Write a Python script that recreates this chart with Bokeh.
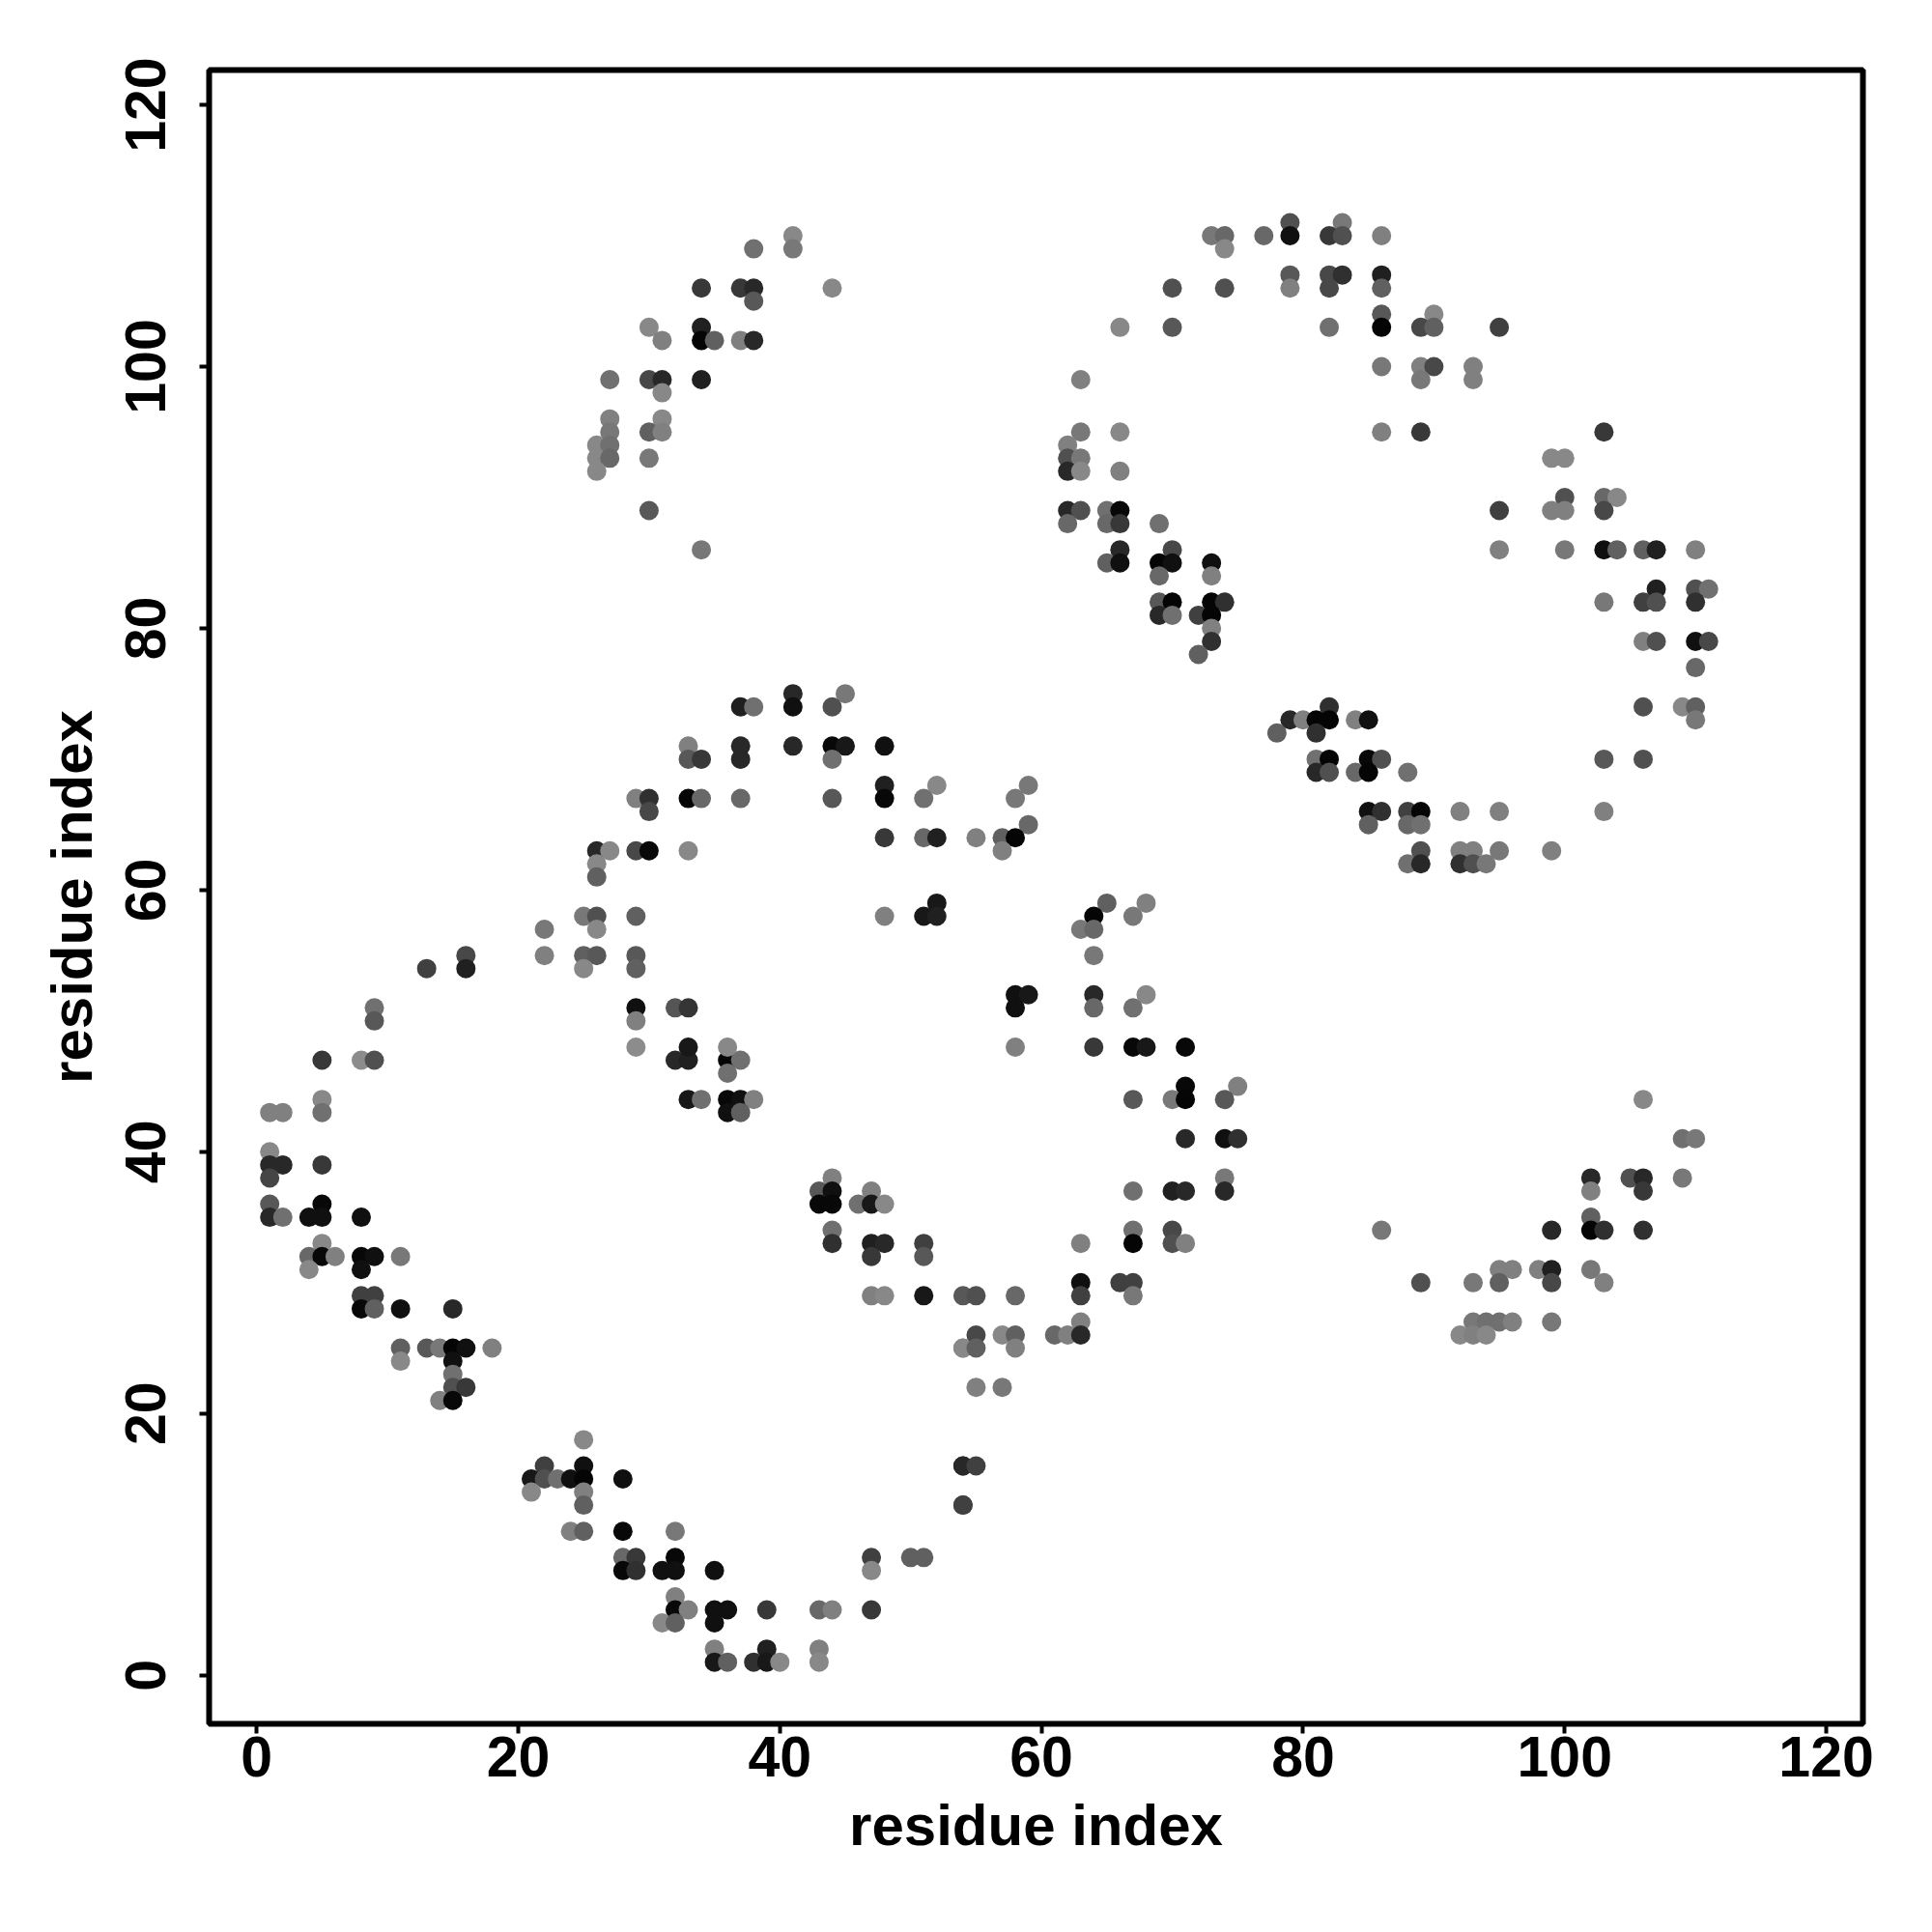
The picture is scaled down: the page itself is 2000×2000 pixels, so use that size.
from bokeh.plotting import figure
from bokeh.embed import file_html
from bokeh.resources import INLINE
from bokeh.models import FixedTicker, Range1d

x_vals = [
 5,8,9,32,33,36,37, 29,33,36, 9,29,32,33, 9,29, 36,
 5,33,34,36,37,38, 1,2,5,36,37, 1, 1,2,5, 1,44, 43,44,47, 1,5,43,44,46,47,48,
 1,2,4,5,8, 44, 5,44,47,48,51, 4,5,6,8,9,11,47,51, 4,8, 8,9,47,48,51,54,
 8,9,11,15, 11,13,14,15,16,18,54, 11,15, 15, 15,16, 14,15, 25, 22,25,54,
 21,22,23,24,25,28, 21,25, 25,54, 24,25,28,32, 28,29,32,47,50,51,
 28,29,31,32,35,47, 32, 32,33,35,36,39,43,44,47, 31,32,35, 35,39,43, 35,36,38,39,40,43,
 41,38,41, 34,37,38,44, 38, 30,34, 31,34,35,37,38, 27,30,31,34, 31, 27,31, 27,30,31,
 26,27, 26,27,30, 26, 30, 34, 41,45, 37,38,41,44, 33,37,41,44,45,48, 33,34,37,44,
 48,52, 29,30,33,34,37,44,48,51, 30, 48,51,52, 26,27,29,30,33, 26, 26, 52,
 25,26,29,48,51,52, 22,26, 22,25,26,29,16, 13,16,25,29,
 79,83, 73,74,77,79,82,83,86, 74, 79,82,83,86, 70,74,79,82,86, 86,90, 66,70,82,86,89,90,95,
 86,89,90,93, 63,89,93, 63,66,86,89,103, 62, 62,63,99,100, 62,63,66, 100,103,104,
 62,63,65,66,95,99,100,103, 62,65,66,69, 66,70,95,100,103,104,106,107,110,
 65,66,69,70,73, 69,73, 107,110,111, 69,70,73,74,103,106,107,110, 69,70,72,73, 73,
 73,106,107,110,111, 72, 110, 82,106,109,110, 79,80,81,82,84,85,110, 78,81,
 81,82,85,86,103,106, 81,82,84,85,88, 85,86,88,89,92,95,103, 85,88,89,
 89,92,93,95,99, 88,89,92,93,94,
 59,58,59,55,57,58,57, 65,64,63,64,67,68,64,
 58,59,64,68, 58,64,67, 58,64,67,68,71, 71,75, 67,70,71,74,106, 71,74,75,109,110,
 74,102,105,106,109, 67,70,71,74,102,106, 102, 67,70,86,99,102,103,106, 63,67,70,71,
 95,96,98,99,102, 63,66,67,89,93,95,99,103, 55,58,63,67, 63,93,94,95,96,99,
 55,57,58,61,62,63,92,93,94, 54,55,58, 55,57, 54,55, 54,
]
y_vals = [
 47,47,47,47,47,47,47, 48,48,48, 51,51,51,51, 50,50, 46,
 44,44,44,44,44,44, 43,43,43,43,43, 40, 39,39,39, 38,38, 37,37,37, 36,36,36,36,36,36,36,
 35,35,35,35,35, 34, 33,33,33,33,33, 32,32,32,32,32,32,32,32, 31,31, 29,29,29,29,29,29,
 28,28,28,28, 25,25,25,25,25,25,25, 24,24, 23, 22,22, 21,21, 18, 16,16,16,
 15,15,15,15,15,15, 14,14, 13,13, 11,11,11,11, 9,9,9,9,9,9,
 8,8,8,8,8,8, 6, 5,5,5,5,5,5,5,5, 4,4,4, 2,2,2, 1,1,1,1,1,1,
 110,109,109, 106,106,106,106, 105, 103,103, 102,102,102,102,102, 99,99,99,99, 98, 96,96, 95,95,95,
 94,94, 93,93,93, 92, 89, 86, 75,75, 74,74,74,74, 71,71,71,71,71,71, 70,70,70,70,
 68,68, 67,67,67,67,67,67,67,67, 66, 64,64,64, 63,63,63,63,63, 62, 61, 59,
 58,58,58,58,58,58, 57,57, 55,55,55,55,55, 54,54,54,54,
 111,111, 110,110,110,110,110,110,110, 109, 107,107,107,107, 106,106,106,106,106, 104,104, 103,103,103,103,103,103,103,
 100,100,100,100, 99,99,99, 95,95,95,95,95, 94, 93,93,93,93, 92,92,92, 90,90,90,
 89,89,89,89,89,89,89,89, 88,88,88,88, 86,86,86,86,86,86,86,86,86,
 85,85,85,85,85, 84,84, 83,83,83, 82,82,82,82,82,82,82,82, 81,81,81,81, 80,
 79,79,79,79,79, 78, 77, 74,74,74,74, 73,73,73,73,73,73,73, 72,72,
 70,70,70,70,70,70, 69,69,69,69,69, 66,66,66,66,66,66,66, 65,65,65,
 63,63,63,63,63, 62,62,62,62,62,
 68,67,65,64,64,64,63, 59,58,57,57,58,59,55,
 52,52,52,52, 51,51,51, 48,48,48,48,48, 45,45, 44,44,44,44,44, 41,41,41,41,41,
 38,38,38,38,38, 37,37,37,37,37,37, 35, 34,34,34,34,34,34,34, 33,33,33,33,
 31,31,31,31,31, 30,30,30,30,30,30,30,30, 29,29,29,29, 27,27,27,27,27,27,
 26,26,26,26,26,26,26,26,26, 25,25,25, 22,22, 16,16, 13,
]
gray_vals = [
 0x38,0x8c,0x50,0x28,0x20,0x05,0x70, 0x8c,0x18,0x88, 0x70,0x10,0x55,0x35, 0x58,0x80, 0x70,
 0x88,0x18,0x70,0x08,0x10,0x80, 0x80,0x80,0x70,0x10,0x60, 0x88, 0x28,0x28,0x38, 0x45,0x80, 0x58,0x10,0x80, 0x58,0x08,0x08,0x08,0x70,0x18,0x88,
 0x28,0x70,0x10,0x10,0x10, 0x70, 0x88,0x30,0x20,0x28,0x40, 0x68,0x08,0x80,0x08,0x10,0x78,0x38,0x58, 0x88,0x10, 0x40,0x40,0x80,0x88,0x18,0x58,
 0x08,0x60,0x10,0x28, 0x60,0x58,0x78,0x05,0x10,0x80,0x88, 0x88,0x10, 0x70, 0x50,0x38, 0x80,0x08, 0x88, 0x40,0x10,0x28,
 0x18,0x50,0x70,0x10,0x05,0x10, 0x88,0x80, 0x60,0x40, 0x80,0x60,0x08,0x78, 0x68,0x38,0x08,0x40,0x60,0x60,
 0x08,0x30,0x10,0x10,0x10,0x88, 0x80, 0x08,0x80,0x10,0x10,0x38,0x68,0x80,0x38, 0x88,0x60,0x10, 0x80,0x20,0x80, 0x18,0x60,0x30,0x18,0x88,0x88,
 0x88,0x70,0x78, 0x38,0x38,0x28,0x88, 0x58, 0x88,0x20, 0x80,0x05,0x60,0x80,0x28, 0x70,0x48,0x28,0x20, 0x88, 0x80,0x88, 0x78,0x60,0x80,
 0x88,0x70, 0x88,0x68,0x78, 0x88, 0x58, 0x78, 0x28,0x78, 0x20,0x70,0x10,0x50, 0x80,0x28,0x28,0x08,0x18,0x10, 0x58,0x38,0x28,0x70,
 0x20,0x88, 0x80,0x30,0x05,0x68,0x68,0x58,0x08,0x70, 0x48, 0x38,0x68,0x20, 0x28,0x88,0x48,0x08,0x88, 0x88, 0x60, 0x18,
 0x78,0x50,0x60,0x80,0x18,0x20, 0x78,0x88, 0x80,0x60,0x58,0x58,0x48, 0x40,0x20,0x88,0x60,
 0x50,0x78, 0x78,0x68,0x68,0x10,0x38,0x50,0x80, 0x88, 0x58,0x48,0x30,0x20, 0x50,0x50,0x80,0x48,0x60, 0x58,0x88, 0x88,0x58,0x70,0x05,0x48,0x60,0x40,
 0x78,0x80,0x48,0x80, 0x80,0x78,0x80, 0x78,0x88,0x80,0x38,0x38, 0x80, 0x50,0x78,0x88,0x88, 0x28,0x88,0x80, 0x50,0x68,0x88,
 0x28,0x50,0x70,0x08,0x40,0x80,0x80,0x48, 0x68,0x68,0x38,0x70, 0x28,0x48,0x80,0x78,0x10,0x60,0x60,0x20,0x80,
 0x60,0x10,0x05,0x10,0x10, 0x68,0x80, 0x20,0x50,0x70, 0x58,0x05,0x05,0x30,0x78,0x40,0x50,0x30, 0x28,0x70,0x40,0x05, 0x80,
 0x30,0x80,0x50,0x10,0x48, 0x60, 0x68, 0x30,0x50,0x88,0x60, 0x28,0x80,0x05,0x05,0x80,0x10,0x78, 0x60,0x30,
 0x70,0x05,0x08,0x50,0x58,0x50, 0x28,0x50,0x68,0x05,0x70, 0x10,0x30,0x40,0x05,0x80,0x80,0x80, 0x60,0x68,0x70,
 0x50,0x80,0x80,0x78,0x80, 0x70,0x28,0x30,0x50,0x78,
 0x78,0x78,0x68,0x80,0x60,0x05,0x80, 0x60,0x05,0x78,0x68,0x78,0x80,0x78,
 0x10,0x18,0x28,0x88, 0x10,0x68,0x70, 0x80,0x38,0x08,0x18,0x08, 0x08,0x80, 0x58,0x78,0x05,0x58,0x88, 0x28,0x10,0x30,0x70,0x78,
 0x78,0x28,0x50,0x28,0x78, 0x70,0x20,0x28,0x28,0x80,0x38, 0x60, 0x70,0x48,0x78,0x28,0x05,0x30,0x30, 0x80,0x05,0x50,0x80,
 0x80,0x80,0x80,0x20,0x78, 0x10,0x40,0x40,0x50,0x78,0x60,0x48,0x80, 0x50,0x68,0x40,0x78, 0x80,0x78,0x70,0x70,0x80,0x78,
 0x48,0x88,0x60,0x68,0x80,0x28,0x88,0x80,0x88, 0x88,0x60,0x80, 0x80,0x78, 0x28,0x40, 0x40,
]
tick_vals = [0, 20, 40, 60, 80, 100, 120]
x_label = "residue index"
y_label = "residue index"

colors = ["#%02x%02x%02x" % (g, g, g) for g in gray_vals]

p = figure(width=1984, height=1984, output_backend="svg", toolbar_location=None,
           x_range=Range1d(-3.63, 122.8), y_range=Range1d(-3.71, 122.66),
           min_border_left=216, min_border_right=56, min_border_top=72, min_border_bottom=200)
p.frame_width = 1712
p.frame_height = 1712
p.grid.visible = False
p.scatter(x_vals, y_vals, size=20, color=colors, line_color=None)
p.outline_line_color = "black"
p.outline_line_width = 6
for ax, lab in ((p.xaxis[0], x_label), (p.yaxis[0], y_label)):
    ax.ticker = FixedTicker(ticks=tick_vals)
    ax.axis_label = lab
    ax.axis_label_text_font = "Liberation Sans"
    ax.axis_label_text_font_style = "bold"
    ax.axis_label_text_font_size = "60px"
    ax.axis_label_text_color = "black"
    ax.major_label_text_font = "Liberation Sans"
    ax.major_label_text_font_style = "bold"
    ax.major_label_text_font_size = "59px"
    ax.major_label_text_color = "black"
    ax.major_tick_line_color = "black"
    ax.major_tick_line_width = 4
    ax.major_tick_out = 10
    ax.major_tick_in = 0
    ax.minor_tick_line_color = None
    ax.axis_line_color = None
p.xaxis[0].major_label_standoff = 3
p.xaxis[0].axis_label_standoff = 14
p.yaxis[0].major_label_orientation = "parallel"
p.yaxis[0].major_label_standoff = 35
p.yaxis[0].axis_label_standoff = 20
open("out.html", "w").write(file_html(p, INLINE))
